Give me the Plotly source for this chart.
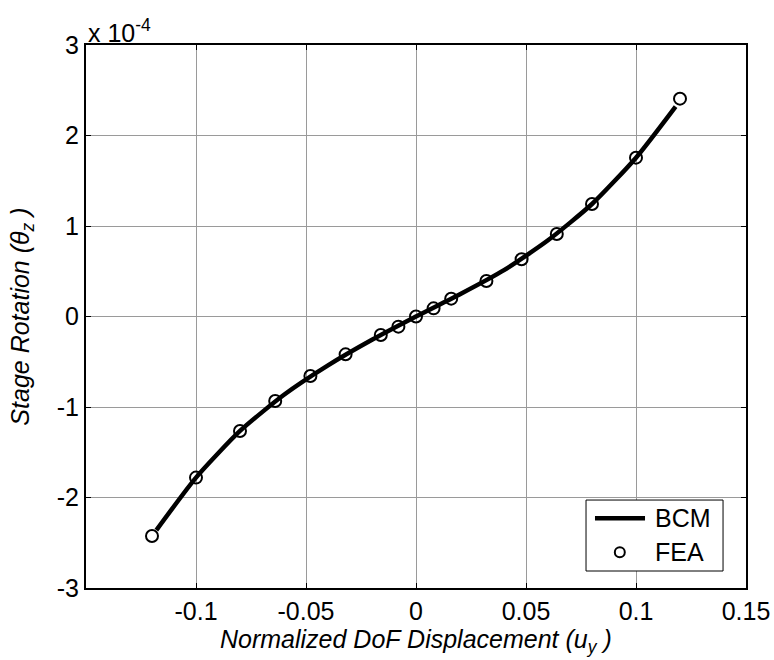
import plotly.graph_objects as go

# FEA results (theta_z in units of 1e-4)
fea_x = [-0.12, -0.1, -0.08, -0.064, -0.048, -0.032, -0.016, -0.008, 0.0,
         0.008, 0.016, 0.032, 0.048, 0.064, 0.08, 0.1, 0.12]
fea_y = [-2.425, -1.78, -1.265, -0.934, -0.657, -0.418, -0.204, -0.112, 0.0,
         0.09, 0.197, 0.392, 0.632, 0.912, 1.243, 1.755, 2.407]

# BCM curve (theta_z in units of 1e-4)
bcm_x = [-0.118, -0.1, -0.08, -0.06, -0.04, -0.02, 0.0, 0.02, 0.04, 0.06, 0.08, 0.1, 0.118]
bcm_y = [-2.36, -1.78, -1.265, -0.865, -0.54, -0.2575, 0.0, 0.246, 0.512, 0.842, 1.243, 1.755, 2.32]

x_ticks = [-0.1, -0.05, 0, 0.05, 0.1, 0.15]
x_ticktext = ["-0.1", "-0.05", "0", "0.05", "0.1", "0.15"]
y_ticks = [-3, -2, -1, 0, 1, 2, 3]
y_ticktext = ["-3", "-2", "-1", "0", "1", "2", "3"]

series_names = ["BCM", "FEA"]

FONT = "Liberation Sans, Arial, sans-serif"
FS = 25
LFS = 25

fig = go.Figure()
fig.add_trace(go.Scatter(
    x=bcm_x, y=bcm_y, mode="lines", name=series_names[0], showlegend=False,
    line=dict(color="black", width=4.5, shape="spline", smoothing=0.6),
))
fig.add_trace(go.Scatter(
    x=fea_x, y=fea_y, mode="markers", name=series_names[1], showlegend=False,
    marker=dict(symbol="circle-open", size=12, color="black", line=dict(width=2, color="black")),
))

axis_common = dict(
    showline=True, linecolor="black", linewidth=2, mirror="ticks",
    ticks="inside", ticklen=5, tickcolor="black", tickwidth=1,
    showgrid=True, gridcolor="#9a9a9a", gridwidth=1,
    zeroline=False, automargin=False,
    tickfont=dict(family=FONT, size=FS, color="black"),
)

# legend box (MATLAB-style) drawn in paper coordinates
LX0, LX1, LY0, LY1 = 0.7576, 0.9652, 0.0313, 0.162
row1, row2 = 0.1284, 0.0657
shapes = [
    dict(type="rect", xref="paper", yref="paper", x0=LX0, x1=LX1, y0=LY0, y1=LY1,
         line=dict(color="black", width=1), fillcolor="white", layer="above"),
    dict(type="line", xref="paper", yref="paper", x0=0.7712, x1=0.8470, y0=row1, y1=row1,
         line=dict(color="black", width=4.5), layer="above"),
    dict(type="circle", xref="paper", yref="paper", xsizemode="pixel", ysizemode="pixel",
         xanchor=0.8088, yanchor=row2, x0=-5, x1=5, y0=-5, y1=5,
         line=dict(color="black", width=2), fillcolor="rgba(0,0,0,0)", layer="above"),
]

annotations = [
    dict(x=0, y=1, xref="paper", yref="paper", xanchor="left", yanchor="bottom",
         text="x 10<sup>-4</sup>", showarrow=False,
         font=dict(family=FONT, size=FS, color="black"), yshift=-4),
    dict(x=0.5, y=-0.0645, xref="paper", yref="paper", xanchor="center", yanchor="top",
         text="<i>Normalized DoF Displacement (u<sub>y</sub> )</i>", showarrow=False,
         font=dict(family=FONT, size=FS, color="black")),
    dict(x=0.859, y=row1, xref="paper", yref="paper", xanchor="left", yanchor="middle",
         text=series_names[0], showarrow=False, font=dict(family=FONT, size=LFS, color="black")),
    dict(x=0.859, y=row2, xref="paper", yref="paper", xanchor="left", yanchor="middle",
         text=series_names[1], showarrow=False, font=dict(family=FONT, size=LFS, color="black")),
]

fig.update_layout(
    width=774, height=660,
    margin=dict(l=86, r=28, t=45, b=72),
    paper_bgcolor="white", plot_bgcolor="white",
    font=dict(family=FONT, size=FS, color="black"),
    showlegend=False,
    xaxis=dict(range=[-0.15, 0.15], tickvals=x_ticks, ticktext=x_ticktext, **axis_common),
    yaxis=dict(
        range=[-3, 3], tickvals=y_ticks, ticktext=y_ticktext,
        title=dict(text="<i>Stage Rotation (θ<sub>z</sub> )</i>",
                   font=dict(family=FONT, size=FS, color="black"), standoff=20),
        **axis_common,
    ),
    shapes=shapes,
    annotations=annotations,
)

fig.write_html("out.html")
